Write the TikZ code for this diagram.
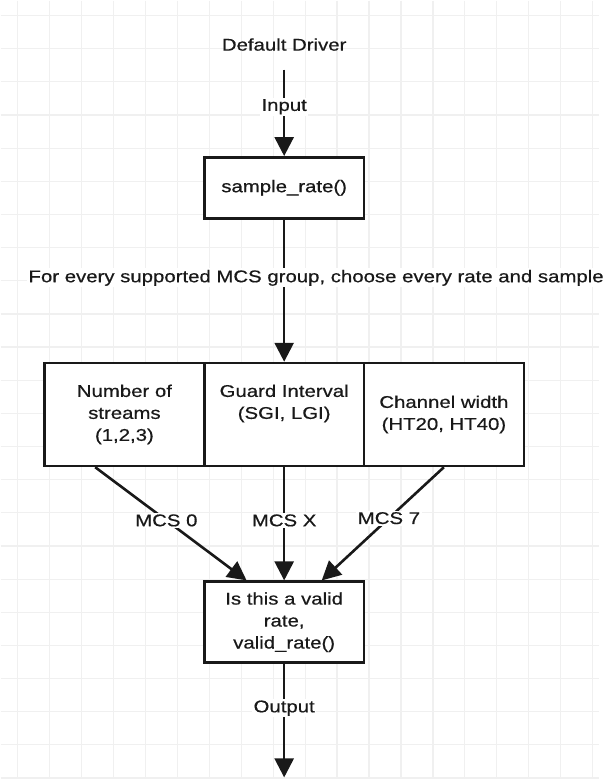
\documentclass[tikz,border=0pt]{standalone}
\usepackage{fontspec}
\setmainfont{Liberation Sans}[FakeStretch=1.2,FakeBold=0.5]
\usetikzlibrary{arrows.meta}

\begin{document}
\begin{tikzpicture}[
  x=1pt, y=-1pt,
  font=\fontsize{17}{22}\selectfont,
  gridline/.style={black!6,line width=1.2pt},
  box/.style={draw=black!90,line width=2.6pt,fill=white,text=black!90,align=center,minimum width=160pt,inner sep=0pt},
  cell/.style={box,minimum height=103pt},
  flow/.style={draw=black!90,line width=2.6pt,-{Triangle[length=19pt,width=19pt]}},
  lbl/.style={fill=white,text=black!90,inner sep=1.5pt}
]
  \fill[white] (0,0) rectangle (599,780);
  \foreach \gx in {17,49,...,593} \draw[gridline] (\gx,0) -- (\gx,780);
  \foreach \gy in {0,...,23} \draw[gridline] (0,15+33.2*\gy) -- (599,15+33.2*\gy);

  \node[text=black!90,inner sep=0pt,minimum height=50pt] (dd) at (284,44) {Default Driver};
  \node[box,minimum height=61pt] (sr) at (284,187.5) {sample\_rate()};
  \node[cell] (nstr) at (124,414.5) {Number of\\streams\\(1,2,3)};
  \node[cell] (gint) at (284,414.5) {Guard Interval\\(SGI, LGI)\\\phantom{(}};
  \node[cell] (chw) at (444,414.5) {Channel width\\(HT20, HT40)};
  \node[box,minimum height=81pt] (vb) at (284,622.5) {Is this a valid\\rate,\\valid\_rate()};
  \coordinate (out) at (284,778);

  \draw[flow] (dd) -- node[lbl,pos=0.43] {Input} (sr);
  \draw[flow] (sr) -- node[lbl,pos=0.41,xshift=32pt] {For every supported MCS group, choose every rate and sample} (gint);
  \draw[flow] (nstr.-119) -- node[lbl,pos=0.47] {MCS 0} (vb.132);
  \draw[flow] (gint) -- node[lbl,pos=0.47] {MCS X} (vb);
  \draw[flow] (chw.south) -- node[lbl,pos=0.45] {MCS 7} (vb.48);
  \draw[flow] (vb) -- node[lbl,pos=0.39] {Output} (out);
\end{tikzpicture}
\end{document}
